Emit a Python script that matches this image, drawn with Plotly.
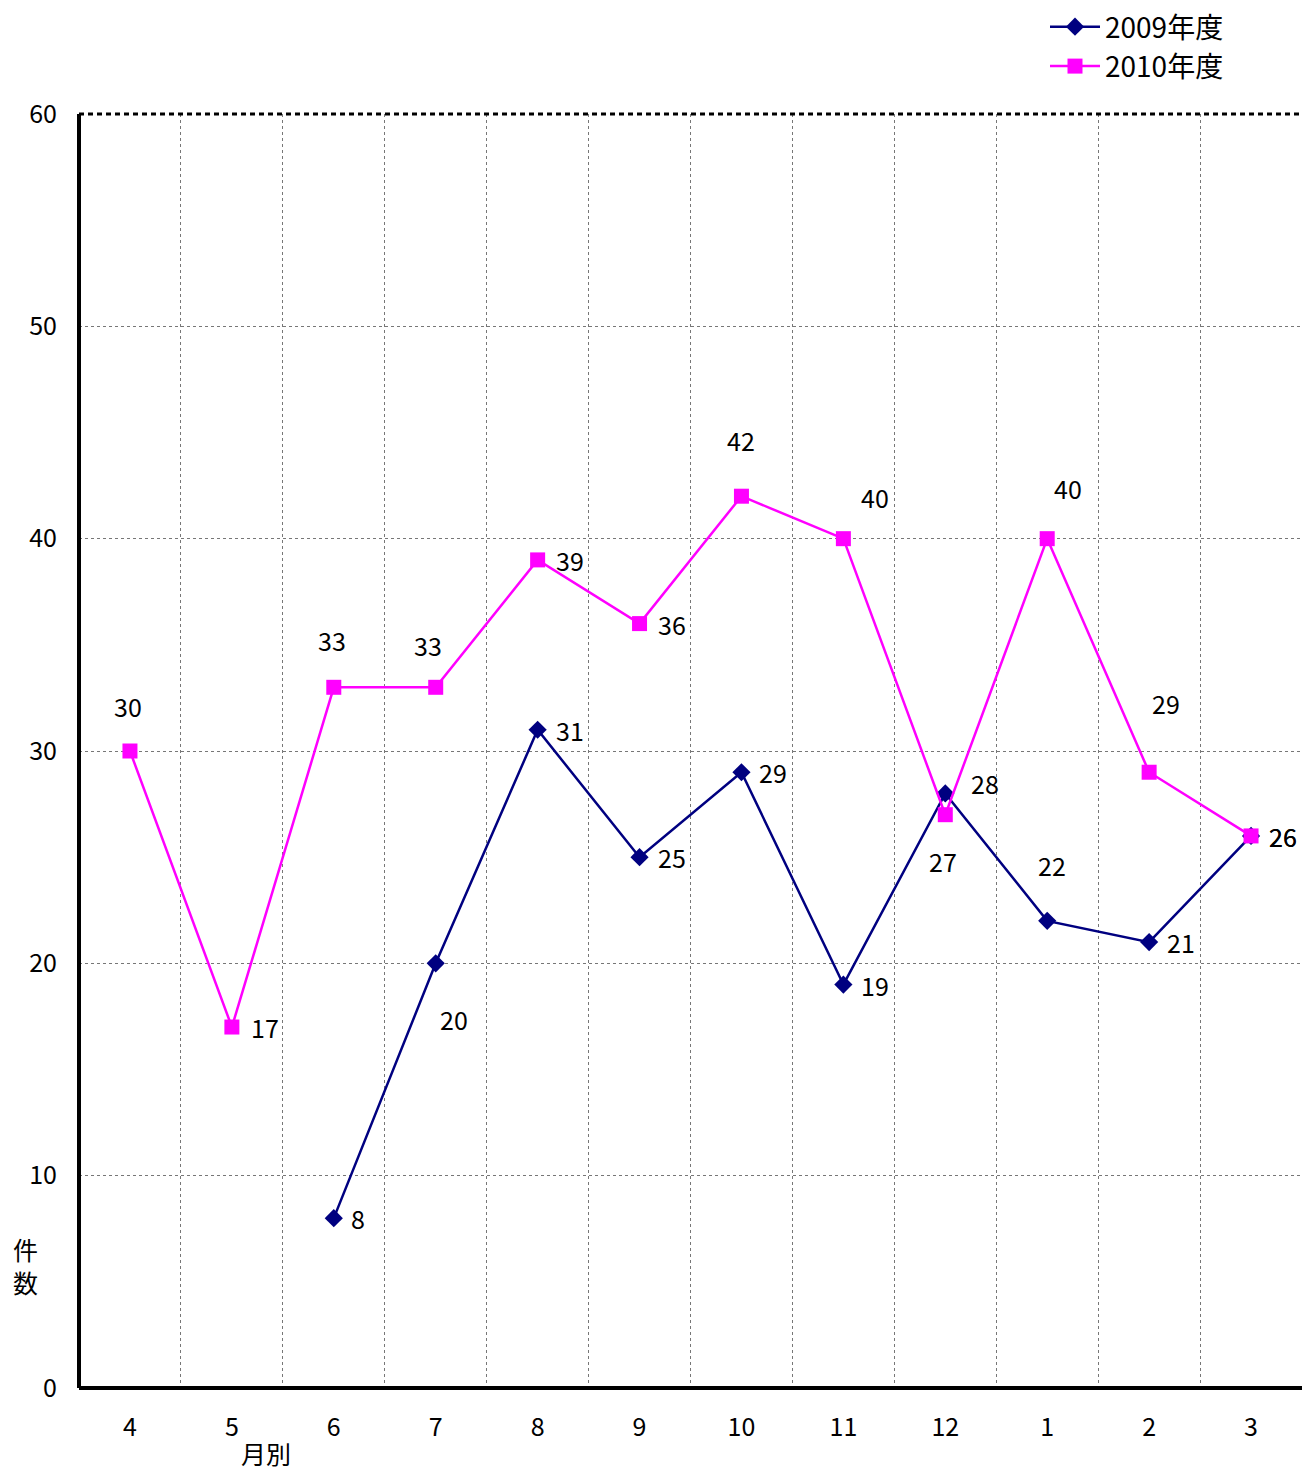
import plotly.graph_objects as go

months = ["4", "5", "6", "7", "8", "9", "10", "11", "12", "1", "2", "3"]
fy2009 = [None, None, 8, 20, 31, 25, 29, 19, 28, 22, 21, 26]
fy2010 = [30, 17, 33, 33, 39, 36, 42, 40, 27, 40, 29, 26]
series_names = ["2009年度", "2010年度"]
y_ticks = [0, 10, 20, 30, 40, 50, 60]

# label offsets (pixels) for data labels
off2009 = [None, None, (24, 0), (18, -56), (32, 0), (32, 0), (32, 0), (32, 0), (40, 10), (5, 56), (32, 0), (32, 0)]
off2010 = [(-2, 45), (33, 0), (-2, 47), (-8, 42), (32, 0), (32, 0), (0, 56), (32, 42), (-2, -46), (21, 51), (17, 69), (32, 0)]

FONT = "Noto Sans CJK JP"
x = list(range(len(months)))

W, H = 1302, 1470
L, T, B = 79, 114, 82
plot_w, plot_h = W - L, H - T - B

fig = go.Figure()
fig.add_trace(go.Scatter(
    x=x, y=fy2009, name=series_names[0], mode="lines+markers",
    line=dict(color="#000080", width=2.5),
    marker=dict(symbol="diamond", size=14, color="#000080"),
    connectgaps=False, cliponaxis=False,
))
fig.add_trace(go.Scatter(
    x=x, y=fy2010, name=series_names[1], mode="lines+markers",
    line=dict(color="#FF00FF", width=2.5),
    marker=dict(symbol="square", size=15, color="#FF00FF"),
    cliponaxis=False,
))

annotations = []
for vals, offs in ((fy2009, off2009), (fy2010, off2010)):
    for i, v in enumerate(vals):
        if v is None:
            continue
        dx, dy = offs[i]
        annotations.append(dict(
            x=i, y=v, xref="x", yref="y", text=str(v), showarrow=False,
            xanchor="center", yanchor="middle",
            xshift=dx, yshift=dy, font=dict(family=FONT, size=25, color="black"),
        ))

annotations.append(dict(text="件<br>数", x=(25 - L) / plot_w, y=(1388 - 1265) / plot_h,
                        xref="paper", yref="paper", xanchor="center", yanchor="middle",
                        showarrow=False, font=dict(family=FONT, size=25, color="black")))
annotations.append(dict(text="月別", x=(266 - L) / plot_w, y=-(1453 - 1388) / plot_h,
                        xref="paper", yref="paper", xanchor="center", yanchor="middle",
                        showarrow=False, font=dict(family=FONT, size=25, color="black")))

fig.update_layout(
    width=W, height=H,
    margin=dict(l=L, r=0, t=T, b=B, pad=0),
    paper_bgcolor="white", plot_bgcolor="white",
    font=dict(family=FONT, size=25, color="black"),
    showlegend=True,
    legend=dict(x=(1045 - L) / plot_w, y=1 + (T - 2) / plot_h, xanchor="left", yanchor="top",
                itemwidth=50, font=dict(family=FONT, size=28, color="black"),
                bgcolor="rgba(0,0,0,0)", tracegroupgap=0),
    xaxis=dict(
        range=[-0.5, len(months) - 0.5], tickmode="array", tickvals=x, ticktext=months,
        showgrid=False, zeroline=False, showline=False,
        ticks="outside", ticklen=17, tickcolor="rgba(0,0,0,0)",
        minor=dict(tickmode="array", tickvals=[i + 0.5 for i in range(len(months) - 1)],
                   showgrid=True, gridcolor="#777777", griddash="dot", gridwidth=1, ticks=""),
        fixedrange=True,
    ),
    yaxis=dict(
        range=[0, 60], tickmode="array", tickvals=y_ticks,
        showgrid=True, gridcolor="#777777", griddash="dot", gridwidth=1,
        zeroline=False, showline=False,
        ticks="outside", ticklen=16, tickcolor="rgba(0,0,0,0)",
        fixedrange=True,
    ),
    annotations=annotations,
)

# axis lines and top dashed border
fig.add_shape(type="line", xref="paper", yref="paper", x0=0, x1=1, y0=1, y1=1,
              line=dict(color="black", width=3, dash="5px,4px"))
fig.add_shape(type="line", xref="paper", yref="paper", x0=0, x1=1, y0=0, y1=0,
              line=dict(color="black", width=4))
fig.add_shape(type="line", xref="paper", yref="paper", x0=0, x1=0, y0=0, y1=1,
              line=dict(color="black", width=4))

fig.write_html("out.html", config={"displayModeBar": False},
               post_script="document.body.style.margin='0';document.body.style.overflow='hidden';")
